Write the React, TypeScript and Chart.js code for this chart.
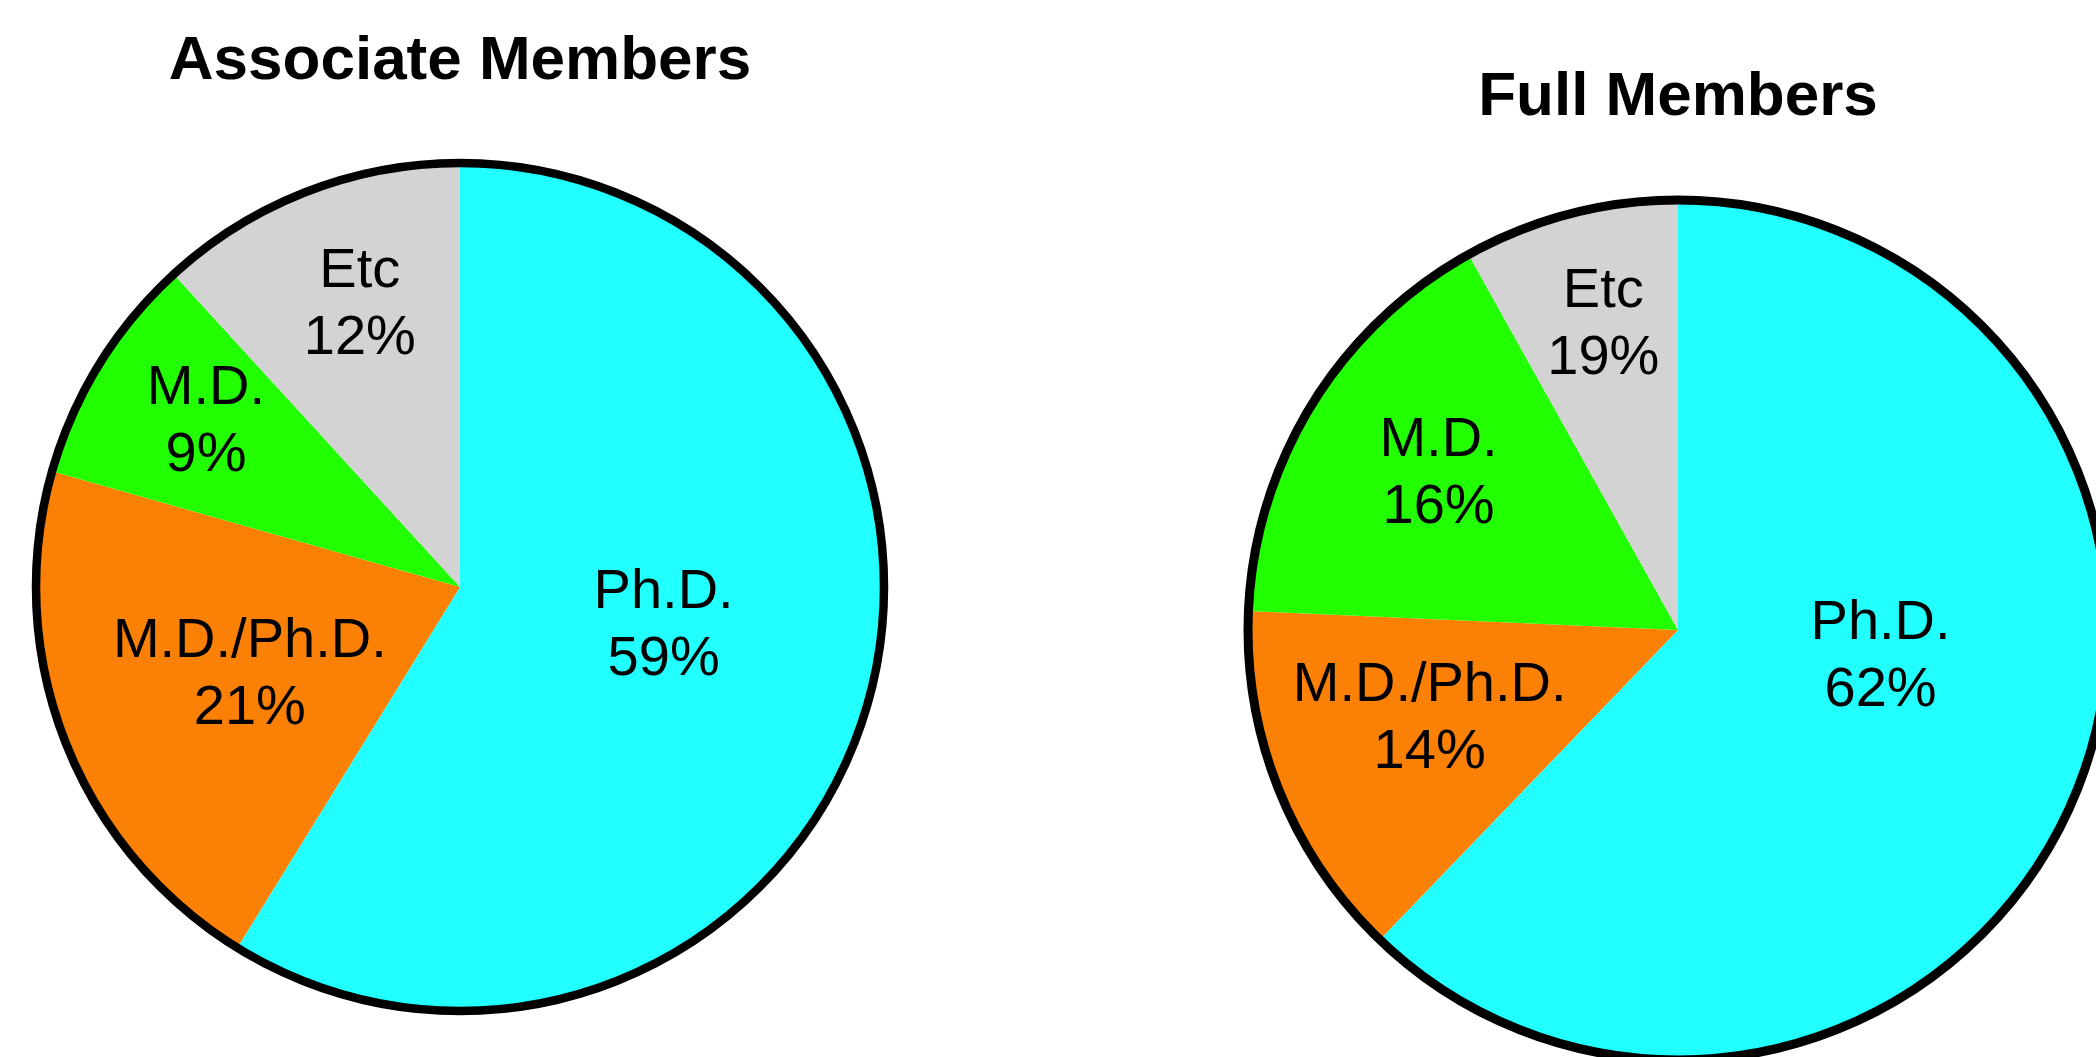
import React, { useEffect, useRef } from 'react';
import { Chart, registerables } from 'chart.js';

Chart.register(...registerables);

// ---- data ----
const categories = ['Ph.D.', 'M.D./Ph.D.', 'M.D.', 'Etc'];
const associateTitle = 'Associate Members';
const associateValues = [58.8, 20.6, 8.8, 11.8];
const associatePctLabels = ['59%', '21%', '9%', '12%'];
const fullTitle = 'Full Members';
const fullValues = [62.2, 13.5, 16.2, 8.1];
const fullPctLabels = ['62%', '14%', '16%', '19%'];

// ---- styles / layout ----
const sliceColors = ['#21FFFF', '#FB8006', '#22FF02', '#D3D3D3'];
const FONT = '"Liberation Sans", Arial, Helvetica, sans-serif';

type PieSpec = {
  title: string;
  values: number[];
  pctLabels: string[];
  canvasSize: number;
  left: number;
  top: number;
  radius: number;
  ringWidth: number;
  titleTop: number;
  // [fraction of radius, angle shift in degrees] per slice label
  labelLayout: [number, number][];
};

const pies: PieSpec[] = [
  {
    title: associateTitle,
    values: associateValues,
    pctLabels: associatePctLabels,
    canvasSize: 880,
    left: 20,
    top: 147,
    radius: 424,
    ringWidth: 8.5,
    titleTop: 27,
    labelLayout: [
      [0.487, -6.3],
      [0.533, -0.3],
      [0.72, 2],
      [0.717, 2],
    ],
  },
  {
    title: fullTitle,
    values: fullValues,
    pctLabels: fullPctLabels,
    canvasSize: 900,
    left: 1228,
    top: 180,
    radius: 430,
    ringWidth: 9,
    titleTop: 63,
    labelLayout: [
      [0.474, -15.6],
      [0.61, 3],
      [0.67, 2.1],
      [0.74, 1],
    ],
  },
];

const pieDecor = {
  id: 'pieDecor',
  afterDatasetsDraw(chart: any, _args: any, opts: any) {
    const meta = chart.getDatasetMeta(0);
    const arcs = meta.data as any[];
    if (!arcs.length) return;
    const ctx: CanvasRenderingContext2D = chart.ctx;
    const { x, y, outerRadius } = arcs[0].getProps(['x', 'y', 'outerRadius'], true);
    ctx.save();
    // labels
    const fs = opts.fontSize;
    const lineGap = opts.lineGap;
    const capH = fs * 0.716;
    ctx.fillStyle = '#000';
    ctx.font = `${fs}px ${FONT}`;
    ctx.textAlign = 'center';
    ctx.textBaseline = 'alphabetic';
    arcs.forEach((arc: any, i: number) => {
      const { startAngle, endAngle } = arc.getProps(['startAngle', 'endAngle'], true);
      const [frac, shiftDeg] = opts.layout[i];
      const a = (startAngle + endAngle) / 2 + (shiftDeg * Math.PI) / 180;
      const cx = x + Math.cos(a) * frac * outerRadius;
      const cy = y + Math.sin(a) * frac * outerRadius;
      const b1 = cy - (capH + lineGap) / 2 + capH;
      const b2 = b1 + lineGap;
      ctx.fillText(chart.data.labels[i], cx, b1);
      ctx.fillText(opts.pctLabels[i], cx, b2);
    });
    // outer ring
    ctx.beginPath();
    ctx.arc(x, y, outerRadius, 0, Math.PI * 2);
    ctx.lineWidth = opts.ringWidth;
    ctx.strokeStyle = '#000';
    ctx.stroke();
    ctx.restore();
  },
};

function PieChart({ spec }: { spec: PieSpec }) {
  const ref = useRef<HTMLCanvasElement | null>(null);
  useEffect(() => {
    if (!ref.current) return;
    const chart = new Chart(ref.current, {
      type: 'pie',
      data: {
        labels: categories,
        datasets: [
          {
            data: spec.values,
            backgroundColor: sliceColors,
            borderWidth: 0,
          },
        ],
      },
      options: {
        animation: false,
        responsive: false,
        devicePixelRatio: 1,
        radius: spec.radius,
        events: [],
        layout: { padding: 0 },
        plugins: {
          legend: { display: false },
          tooltip: { enabled: false },
          title: { display: false },
          pieDecor: {
            fontSize: 56,
            lineGap: 67,
            ringWidth: spec.ringWidth,
            layout: spec.labelLayout,
            pctLabels: spec.pctLabels,
          },
        } as any,
      } as any,
      plugins: [pieDecor as any],
    });
    return () => chart.destroy();
  }, [spec]);
  return (
    <canvas
      ref={ref}
      width={spec.canvasSize}
      height={spec.canvasSize}
      style={{
        position: 'absolute',
        left: spec.left,
        top: spec.top,
        width: spec.canvasSize,
        height: spec.canvasSize,
      }}
    />
  );
}

export default function App() {
  return (
    <div
      style={{
        position: 'fixed',
        left: 0,
        top: 0,
        width: '100vw',
        height: '100vh',
        overflow: 'hidden',
        background: '#fff',
      }}
    >
      {pies.map((p) => {
        const cx = p.left + p.canvasSize / 2;
        return (
          <div
            key={p.title + '-t'}
            style={{
              position: 'absolute',
              left: cx - 450,
              width: 900,
              top: p.titleTop,
              textAlign: 'center',
              fontFamily: FONT,
              fontWeight: 'bold',
              fontSize: 62,
              lineHeight: '62px',
              color: '#000',
              whiteSpace: 'nowrap',
            }}
          >
            {p.title}
          </div>
        );
      })}
      {pies.map((p) => (
        <PieChart key={p.title} spec={p} />
      ))}
    </div>
  );
}
